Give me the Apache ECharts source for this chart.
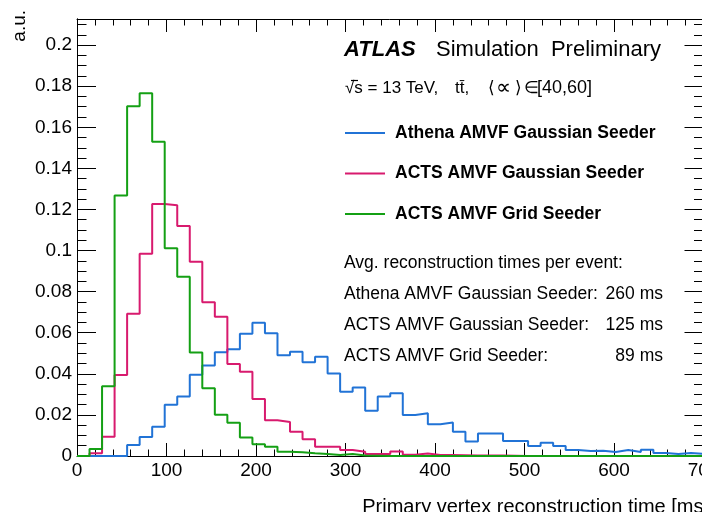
<!DOCTYPE html>
<html>
<head>
<meta charset="utf-8">
<script src="https://cdn.jsdelivr.net/npm/echarts@6/dist/echarts.min.js"></script>
<style>
html, body { margin: 0; padding: 0; background: #fff; }
#main { width: 702px; height: 512px; }
</style>
</head>
<body>
<div id="main"></div>
<script>
// histogram: 50 bins of 14 ms from 0 to 700 ms
var binWidth = 14;

var athena = [
    0, 0, 0, 0, 0.0054, 0.0092, 0.0142, 0.0250, 0.0290, 0.0396,
    0.0440, 0.0505, 0.0520, 0.0595, 0.0648, 0.0598, 0.0490, 0.0508, 0.0456, 0.0483,
    0.0402, 0.0313, 0.0334, 0.0220, 0.0289, 0.0305, 0.0200, 0.0208, 0.0155, 0.0163,
    0.0118, 0.0070, 0.0110, 0.0110, 0.0073, 0.0073, 0.0049, 0.0065, 0.0049, 0.0029,
    0.0024, 0.0026, 0.0020, 0.0029, 0.0020, 0.0030, 0.0015, 0.0010, 0.0015, 0.0010
];
var actsGauss = [
    0, 0.0013, 0.0094, 0.0394, 0.0692, 0.0984, 0.1226, 0.1220, 0.1120, 0.0946,
    0.0748, 0.0678, 0.0448, 0.0410, 0.0277, 0.0174, 0.0165, 0.0118, 0.0081, 0.0045,
    0.0045, 0.0029, 0.0021, 0.0010, 0.0010, 0.0022, 0.0006, 0.0012, 0.0005, 0.0005,
    0.0004, 0.0003, 0.0003, 0.0002, 0.0001, 0, 0, 0, 0, 0,
    0, 0, 0, 0, 0, 0, 0, 0, 0, 0
];
var actsGrid = [
    0, 0.0034, 0.0340, 0.1268, 0.1702, 0.1766, 0.1530, 0.1011, 0.0873, 0.0504,
    0.0330, 0.0201, 0.0162, 0.0090, 0.0057, 0.0045, 0.0021, 0.0018, 0.0013, 0.0010,
    0.0005, 0.0010, 0.0002, 0.0001, 0, 0, 0, 0, 0, 0,
    0, 0, 0, 0, 0, 0, 0, 0, 0, 0,
    0, 0, 0, 0, 0, 0, 0, 0, 0, 0
];

var seriesNames = ['Athena AMVF Gaussian Seeder', 'ACTS AMVF Gaussian Seeder', 'ACTS AMVF Grid Seeder'];
var seriesColors = ['#2173d6', '#d81a6e', '#14a014'];
var avgLabels = ['Athena AMVF Gaussian Seeder:', 'ACTS AMVF Gaussian Seeder:', 'ACTS AMVF Grid Seeder:'];
var avgTimes = ['260 ms', '125 ms', '89 ms'];

var xMin = 0, xMax = 700, xStep = 100;
var yMax = 0.2127, yStep = 0.02;

var font = "'Liberation Sans', Arial, Helvetica, sans-serif";

// histogram -> step points (left edge of every bin, plus the last right edge)
function toSteps(vals) {
    var pts = [];
    for (var i = 0; i < vals.length; i++) {
        pts.push([i * binWidth, vals[i]]);
    }
    pts.push([vals.length * binWidth, vals[vals.length - 1]]);
    return pts;
}

function xAxisOpt(pos) {
    return {
        type: 'value', min: xMin, max: xMax, interval: xStep, position: pos,
        axisLine: { show: true, onZero: false, lineStyle: { color: '#000', width: 1 } },
        axisTick: { show: true, inside: true, length: 13, lineStyle: { color: '#000' } },
        minorTick: { show: true, splitNumber: 5, length: 6.5, lineStyle: { color: '#000' } },
        splitLine: { show: false },
        axisLabel: {
            show: pos == 'bottom', color: '#000', fontSize: 19, fontFamily: font, margin: 5
        }
    };
}

function yAxisOpt(pos, step, len, labels) {
    return {
        type: 'value', min: 0, max: yMax, interval: step, position: pos,
        axisLine: { show: true, onZero: false, lineStyle: { color: '#000', width: 1 } },
        axisTick: { show: true, inside: true, length: len, lineStyle: { color: '#000' } },
        splitLine: { show: false },
        axisLabel: {
            show: labels, color: '#000', fontSize: 19, fontFamily: font, margin: 5,
            formatter: function (v) {
                var k = v / yStep;
                if (Math.abs(k - Math.round(k)) > 1e-6) return '';
                return String(+v.toFixed(2));
            }
        }
    };
}

var series = [athena, actsGauss, actsGrid].map(function (vals, i) {
    return {
        name: seriesNames[i],
        type: 'line',
        step: 'end',
        data: toSteps(vals),
        xAxisIndex: 0,
        yAxisIndex: 0,
        symbol: 'none',
        color: seriesColors[i],
        lineStyle: { width: 2, color: seriesColors[i] },
        z: 3 + i
    };
});

function txt(x, y, s, f, align) {
    return { type: 'text', x: x, y: y,
        style: { text: s, font: f, fill: '#000', align: align || 'left', verticalAlign: 'middle' } };
}

var graphic = [
    txt(344, 50, 'ATLAS', 'italic bold 22px ' + font),
    txt(436, 50, 'Simulation  Preliminary', '22px ' + font),
    txt(345, 88, '\u221As = 13 TeV,', '17px ' + font),
    { type: 'line', shape: { x1: 351, y1: 80.5, x2: 358, y2: 80.5 }, style: { stroke: '#000', lineWidth: 1.2 } },
    txt(455, 88, 'tt\u0304,', '17px ' + font),
    txt(488, 88, '\u27E8', '17px ' + font),
    txt(496, 88, '\u221D', '21px ' + font),
    txt(515, 88, '\u27E9', '17px ' + font),
    txt(524, 88, '\u2208', '17px ' + font),
    txt(537, 88, '[40,60]', '18px ' + font),
    txt(344, 263, 'Avg. reconstruction times per event:', '17.5px ' + font),
    { type: 'text', x: 20, y: 10, rotation: Math.PI / 2,
      style: { text: 'a.u.', font: '19px ' + font, fill: '#000', align: 'right', verticalAlign: 'middle' } },
    txt(709, 507, 'Primary vertex reconstruction time [ms]', '20px ' + font, 'right')
];
avgLabels.forEach(function (t, i) {
    graphic.push(txt(344, 294 + i * 31, t, '17.5px ' + font));
    graphic.push(txt(663, 294 + i * 31, avgTimes[i], '17.5px ' + font, 'right'));
});

var chart = echarts.init(document.getElementById('main'), null, { renderer: 'canvas' });
chart.setOption({
    animation: false,
    backgroundColor: '#fff',
    grid: { left: 77, top: 19, width: 626.5, height: 437, containLabel: false, outerBoundsMode: 'none' },
    xAxis: [xAxisOpt('bottom'), xAxisOpt('top')],
    yAxis: [
        yAxisOpt('left', yStep, 19, true),
        yAxisOpt('left', 0.005, 9.5, false),
        yAxisOpt('right', yStep, 19, false),
        yAxisOpt('right', 0.005, 9.5, false)
    ],
    legend: {
        data: seriesNames,
        orient: 'vertical',
        left: 345, top: 124, padding: 0,
        icon: 'rect', itemWidth: 40, itemHeight: 2, itemGap: 22.5,
        textStyle: { color: '#000', fontSize: 17.5, fontWeight: 'bold', fontFamily: font, padding: [0, 0, 0, 5] }
    },
    series: series,
    graphic: graphic
});
</script>
</body>
</html>
